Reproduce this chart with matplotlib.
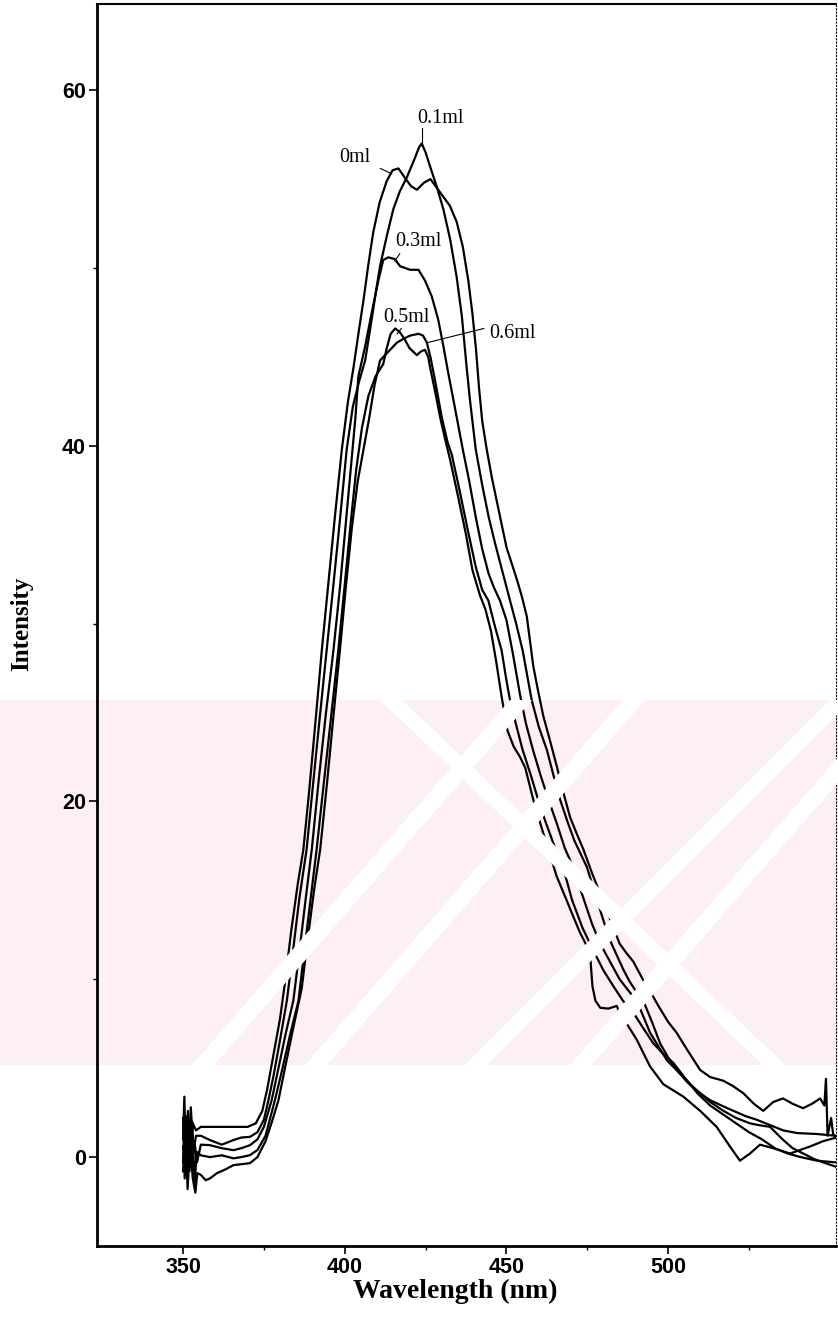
import matplotlib
matplotlib.use("Agg")
import matplotlib.pyplot as plt
from matplotlib.patches import Polygon
from matplotlib.ticker import FixedLocator

# emission spectra (wavelength nm, intensity)
wl_0ml = [350.0, 350.4, 350.9, 351.5, 352.2, 353.0, 354.0, 355.5, 360, 365, 370, 372.5, 374.5, 376, 378, 380,
          381.5, 383.5, 385.5, 387.2, 389, 391, 392.9, 395, 397, 399.1, 401, 402.7, 404.3, 405.8, 407.3, 408.8,
          410.8, 413, 414.8, 416.6, 418.5, 420.5, 422.3, 424.5, 426.5, 428.5, 430.5, 432.5, 434.6, 436.5, 438.2,
          439.5, 440.6, 441.5, 442.5, 443.9, 445.5, 447, 448.5, 450, 451.6, 453.2, 454.8, 456.3, 457.3, 458.3,
          459.8, 461.4, 463.5, 465.6, 467.6, 469.7, 471.7, 473.8, 476.4, 479, 482, 485, 487, 489.2, 492.3, 494.5,
          497, 500, 502.6, 506, 509.9, 513, 517, 520, 523.2, 526.5, 529.4, 532.5, 535.5, 538.5, 541.7, 544.5,
          547, 548.3, 548.8, 549.3, 550.4, 551.0, 552.0]
int_0ml = [1.0, 3.4, -0.4, 2.6, 0.4, 1.9, 1.5, 1.7, 1.7, 1.7, 1.7, 1.9, 2.6, 3.8, 5.8, 7.8,
           9.8, 12.8, 15.4, 17.3, 20.6, 24.6, 28.5, 32.4, 36.1, 39.8, 42.5, 44.4, 46.4, 48.2, 50.2, 52.0,
           53.7, 54.9, 55.5, 55.6, 55.1, 54.6, 54.4, 54.8, 55.0, 54.5, 54.0, 53.5, 52.6, 51.2, 49.3,
           47.4, 45.4, 43.3, 41.4, 39.8, 38.2, 36.9, 35.6, 34.3, 33.4, 32.5, 31.5, 30.4, 29.0, 27.6,
           26.2, 24.8, 23.4, 21.95, 20.5, 19.1, 18.2, 17.3, 16.0, 14.8, 13.4, 12.0, 11.5, 11.0, 9.95, 9.3,
           8.5, 7.6, 7.0, 6.0, 4.9, 4.5, 4.3, 4.0, 3.6, 3.0, 2.6, 3.1, 3.3, 3.0, 2.75, 3.0,
           3.3, 2.9, 4.4, 1.2, 2.2, 1.3, 1.1]

wl_01ml = [350.0, 350.5, 351.0, 351.7, 352.4, 353.2, 354.0, 355.5, 358.3, 362, 365.6, 368, 370.7, 373, 375,
           376.4, 378, 380, 382.1, 384, 386, 388.2, 390, 392.2, 394.4, 396.5, 398.6, 400.6, 402.5, 404.4,
           406.3, 407.8, 409.4, 410.9, 413, 415, 417, 419.2, 421.5, 423, 423.8, 425, 426.4, 428.4, 430.5,
           432.6, 434.6, 436.2, 437.7, 438.7, 440.5, 442.5, 444.5, 446.5, 448.8, 451.1, 453, 455, 457.8, 460,
           462.5, 464.5, 466.6, 469, 471, 474.9, 478, 480, 482, 484, 486, 488, 490.5, 492.3, 495, 497.5, 500,
           502.7, 506, 509.9, 513, 517.1, 521, 525.3, 528, 531.5, 535.6, 538.5, 541.8, 545, 548, 552]
int_01ml = [0.6, -0.6, 2.3, 0.0, 2.8, 0.3, 1.2, 1.2, 0.96, 0.7, 0.96, 1.1, 1.14, 1.4, 2.1,
            3.2, 4.6, 6.6, 8.8, 11.6, 14.6, 17.3, 20.6, 24.6, 28.5, 32.2, 36.0, 39.8, 42.2, 43.6,
            44.8, 46.5, 48.4, 50.1, 51.8, 53.3, 54.3, 55.1, 56.1, 56.8, 57.0, 56.5, 55.7, 54.6, 53.3,
            51.6, 49.5, 47.3, 44.4, 42.6, 39.8, 37.8, 36.0, 34.5, 32.9, 31.3, 30.0, 28.5, 25.7, 24.2,
            22.9, 21.5, 20.1, 18.8, 17.8, 16.3, 14.45, 13.3, 12.2, 11.4, 10.6, 9.9, 9.2, 8.8, 7.6, 6.4, 5.6,
            4.9, 4.2, 3.6, 3.1, 2.6, 2.2, 1.9, 1.8, 1.7, 0.96, 0.5, 0.2, -0.1, -0.3, -0.55]

wl_03ml = [350.0, 350.6, 351.2, 352.0, 352.7, 353.5, 354.3, 355.5, 358.3, 362, 365.6, 368, 370.7, 373, 375,
           377.4, 379.5, 381.8, 384.1, 386, 387.9, 389.8, 392, 394.2, 396.5, 398.5, 400.3, 402, 403.3, 404.2,
           406.3, 408.3, 410.4, 411.9, 413.5, 415.5, 417.1, 420.2, 422.8, 424.8, 426.9, 428.9, 430.5, 432,
           434, 436.5, 438.5, 440.5, 442.5, 444.5, 446.2, 448, 450, 452.1, 454.2, 456, 458.2, 460.5, 463,
           465.5, 468, 470.6, 474, 476.5, 479, 482, 485, 488, 490.3, 494.4, 499.6, 504.7, 509, 513, 516.5,
           520.2, 524, 527.4, 531.5, 535.6, 540, 545.9, 552]
int_03ml = [-0.3, 2.1, -1.0, 1.5, -0.6, 0.9, -0.3, 0.7, 0.67, 0.5, 0.39, 0.5, 0.67, 1.0, 1.7,
            3.2, 5.0, 7.0, 8.8, 11.6, 14.5, 17.3, 21.3, 25.0, 28.5, 32.0, 35.6, 39.0, 41.6, 43.9,
            45.6, 47.45, 49.3, 50.45, 50.6, 50.5, 50.1, 49.9, 49.9, 49.3, 48.4, 47.1, 45.6, 44.1,
            42.2, 39.8, 38.0, 36.0, 34.2, 32.8, 32.0, 31.3, 30.2, 28.2, 26.0, 24.4, 22.9, 21.5, 20.1,
            18.8, 17.4, 16.3, 14.45, 13.1, 12.0, 11.0, 10.0, 9.3, 8.8, 7.0, 5.45, 4.5, 3.7, 3.2, 2.9,
            2.6, 2.3, 2.1, 1.8, 1.5, 1.35, 1.3, 1.2]

wl_05ml = [350.0, 350.5, 351.2, 352.0, 352.8, 353.6, 354.2, 355.5, 358.3, 362, 365.6, 368, 370.7, 373, 375.5,
           378.4, 380.5, 383, 385.7, 387.5, 389.5, 391.3, 393.5, 395.8, 398, 400, 401.8, 403.5, 405.3, 407.3,
           409.5, 411.9, 413, 414.2, 415.6, 417, 418.5, 420, 422.3, 423.5, 424.8, 425.8, 426.4, 428, 429.5,
           431, 432.6, 435.1, 437.5, 439.5, 441.8, 443.5, 445.2, 446.8, 448.5, 450.3, 452.2, 454.2, 455.8,
           458.3, 461.4, 463, 465.5, 468.6, 470.5, 472.8, 474.5, 475.9, 476.3, 476.6, 477.5, 479, 481.5, 484.1,
           485.5, 487.2, 490.3, 494.4, 498.5, 504.7, 509.9, 515, 519.1, 522.2, 525.3, 528.4, 532.5, 537.7,
           543.9, 548, 552]
int_05ml = [2.2, -1.2, 1.0, -0.8, 2.0, -1.5, 0.3, 0.1, 0.0, 0.1, -0.07, 0.0, 0.11, 0.4, 1.2,
            3.2, 4.8, 6.8, 8.8, 11.6, 14.6, 17.3, 21.0, 24.8, 28.5, 32.2, 35.6, 38.6, 41.0, 42.8,
            43.9, 44.6, 45.5, 46.3, 46.6, 46.4, 46.0, 45.5, 45.1, 45.3, 45.4, 45.0, 44.4, 43.0, 41.6,
            40.4, 39.2, 37.1, 35.0, 33.0, 31.6, 30.8, 29.6, 27.9, 25.9, 24.0, 23.1, 22.5, 21.9,
            20.1, 18.2, 17.3, 15.8, 14.45, 13.6, 12.6, 12.0, 11.3, 10.3, 9.6, 8.8, 8.4, 8.35, 8.5,
            7.9, 7.5, 6.6, 5.1, 4.1, 3.4, 2.6, 1.7, 0.6, -0.2, 0.2, 0.7, 0.5, 0.2,
            0.6, 0.9, 1.1]

wl_06ml = [350.0, 350.7, 351.4, 352.2, 353.0, 353.8, 354.4, 355.5, 357, 358.3, 360.5, 363, 365.6, 368, 370.7,
           373, 375.5, 377.5, 379.5, 381.5, 384, 386.7, 388.5, 390.5, 392.4, 394.5, 396.5, 398.5, 400.3, 402.2,
           404, 405.8, 407.5, 409.2, 410.9, 413.5, 416.1, 418, 420.2, 422.8, 424.2, 425.4, 426.6, 428, 430,
           431.8, 433.1, 435.5, 438, 440.5, 442.5, 444.4, 446.5, 448.5, 450, 451.1, 453, 455, 457.5, 459.8,
           462, 464.8, 467.5, 470.3, 473.5, 476.9, 480, 483.1, 486, 489.3, 492.5, 495.4, 498.5, 501.6, 505,
           509, 513, 517, 521, 525, 529, 533, 537, 541, 546, 552]
int_06ml = [-0.8, 1.6, -1.8, 0.8, -1.2, -2.0, -0.9, -1.0, -1.3, -1.2, -0.9, -0.7, -0.45, -0.4, -0.34,
            0.0, 0.9, 2.0, 3.2, 5.0, 7.2, 9.5, 12.2, 15.0, 17.3, 21.0, 24.8, 28.5, 32.0, 35.4,
            38.0, 39.8, 41.5, 43.4, 44.8, 45.3, 45.8, 46.0, 46.2, 46.3, 46.2, 45.8, 44.9, 43.6, 41.6,
            40.2, 39.5, 37.5, 35.3, 33.2, 31.9, 31.3, 29.8, 28.5, 26.8, 25.7, 24.3, 22.9, 21.5, 20.1,
            18.9, 17.5, 16.3, 14.45, 12.9, 11.6, 10.5, 9.6, 8.8, 8.1, 7.2, 6.4, 5.8, 5.3, 4.5,
            3.6, 2.9, 2.4, 1.9, 1.4, 1.0, 0.5, 0.2, 0.0, -0.2, -0.3]

labels = ["0ml", "0.1ml", "0.3ml", "0.5ml", "0.6ml"]
label_xy = [(403.2, 56.2), (429.5, 58.4), (422.8, 51.5), (419.0, 47.2), (451.8, 46.3)]
leader_from = [(411.0, 55.6), (424.0, 57.9), (417.0, 50.8), (417.5, 46.6), (443.0, 46.6)]
leader_to = [(414.5, 55.3), (424.0, 57.0), (415.5, 50.4), (416.2, 46.3), (425.5, 45.8)]

fig = plt.figure(figsize=(8.38, 13.17), dpi=100)


def px(x, y):
    return (x / 838, 1 - y / 1317)


# faint pink watermark band of the scanned page
fig.add_artist(Polygon([px(0, 700), px(838, 700), px(838, 1065), px(0, 1065)],
                       closed=True, facecolor="#fdf0f2", edgecolor="none", zorder=0))
for x_low, x_high in [(192, 510), (305, 623), (465, 830), (570, 888)]:
    fig.add_artist(Polygon([px(x_low, 1065), px(x_low + 22, 1065), px(x_high + 22, 700), px(x_high, 700)],
                           closed=True, facecolor="white", edgecolor="none", zorder=0.5))
fig.add_artist(Polygon([px(380, 700), px(402, 700), px(785, 1065), px(763, 1065)],
                       closed=True, facecolor="white", edgecolor="none", zorder=0.5))

ax = fig.add_axes([0.1158, 0.0539, 0.8818, 0.9431])
ax.patch.set_alpha(0)

for wl, inten in [(wl_0ml, int_0ml), (wl_01ml, int_01ml), (wl_03ml, int_03ml),
                  (wl_05ml, int_05ml), (wl_06ml, int_06ml)]:
    ax.plot(wl, inten, color="black", lw=1.6, solid_joinstyle="round")

for lab, (tx, ty), (x0, y0), (x1, y1) in zip(labels, label_xy, leader_from, leader_to):
    ax.text(tx, ty, lab, ha="center", va="center", fontsize=14.5, family="Liberation Serif")
    ax.plot([x0, x1], [y0, y1], color="black", lw=0.8)

ax.set_xlim(323.4, 551.9)
ax.set_ylim(-5.0, 64.85)
ax.xaxis.set_major_locator(FixedLocator([350, 400, 450, 500]))
ax.xaxis.set_minor_locator(FixedLocator([375, 425, 475, 525]))
ax.yaxis.set_major_locator(FixedLocator([0, 20, 40, 60]))
ax.yaxis.set_minor_locator(FixedLocator([10, 30, 50]))
ax.tick_params(which="major", direction="out", length=6, width=1.2, pad=2)
ax.tick_params(which="minor", direction="out", length=3, width=1.0)
for t in ax.get_xticklabels() + ax.get_yticklabels():
    t.set_family("Liberation Sans")
    t.set_fontweight("bold")
    t.set_fontsize(15.5)

ax.spines["left"].set_linewidth(2.0)
ax.spines["bottom"].set_linewidth(2.0)
ax.spines["top"].set_linewidth(1.5)
ax.spines["right"].set_linewidth(0.8)
ax.spines["right"].set_linestyle((0, (1, 2)))

fig.text(455.5 / 838, 1 - 1291 / 1317, "Wavelength (nm)", ha="center", va="center",
         fontsize=20, fontweight="bold", family="Liberation Serif")
fig.text(22 / 838, 1 - 624 / 1317, "Intensity", ha="center", va="center", rotation=90,
         fontsize=18, fontweight="bold", family="Liberation Serif")

fig.savefig("out.png", dpi=100)
